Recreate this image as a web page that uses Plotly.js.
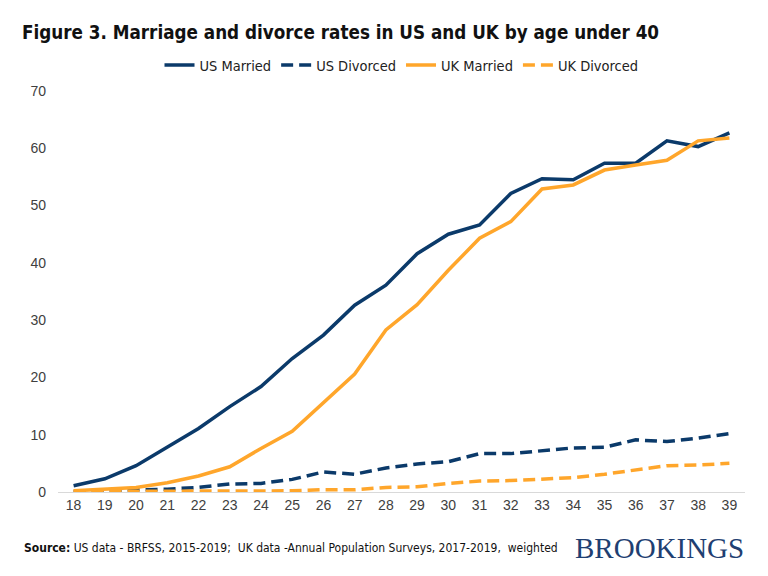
<!DOCTYPE html>
<html>
<head>
<meta charset="utf-8">
<script src="https://cdn.plot.ly/plotly-3.0.1.min.js"></script>
<style>
html,body{margin:0;padding:0;background:#fff;}
#chart{width:768px;height:576px;}
</style>
</head>
<body>
<div id="chart"></div>
<script>
var ages = [18,19,20,21,22,23,24,25,26,27,28,29,30,31,32,33,34,35,36,37,38,39];
var usMarried  = [1.1,2.3,4.6,7.9,11.1,14.9,18.4,23.3,27.4,32.6,36.1,41.6,45.0,46.6,52.1,54.7,54.5,57.4,57.4,61.3,60.3,62.7];
var usDivorced = [0.1,0.2,0.4,0.5,0.8,1.4,1.5,2.2,3.5,3.1,4.2,4.9,5.3,6.7,6.7,7.2,7.7,7.8,9.1,8.8,9.4,10.2];
var ukMarried  = [0.2,0.5,0.8,1.6,2.8,4.4,7.6,10.6,15.7,20.6,28.3,32.7,38.7,44.3,47.2,52.9,53.6,56.2,57.1,57.9,61.3,61.8];
var ukDivorced = [0.1,0.1,0.2,0.2,0.2,0.1,0.1,0.2,0.4,0.4,0.8,0.9,1.5,1.9,2.0,2.3,2.5,3.1,3.8,4.6,4.7,5.0];
var yTicks = [0,10,20,30,40,50,60,70];

var navy = '#0B3A6A';
var orange = '#FFA62B';
var narrow = '"Liberation Sans Narrow", "DejaVu Sans Condensed", "Arial Narrow", sans-serif';

function tr(name, y, color, dash){
  return {x: ages, y: y, name: name, type: 'scatter', mode: 'lines',
    line: {color: color, width: 3.5, dash: dash}, hoverinfo: 'x+y'};
}
var data = [
  tr('US Married', usMarried, navy, 'solid'),
  tr('US Divorced', usDivorced, navy, '12px,6px'),
  tr('UK Married', ukMarried, orange, 'solid'),
  tr('UK Divorced', ukDivorced, orange, '12px,6px')
];

var layout = {
  width: 768, height: 576,
  paper_bgcolor: '#fff', plot_bgcolor: '#fff',
  margin: {l: 58, r: 23, t: 91, b: 84},
  showlegend: true,
  legend: {orientation: 'h', x: 0.5, xanchor: 'center', y: 1 + 26/401, yanchor: 'middle', yref: 'paper',
    font: {family: narrow, size: 14.5, color: '#222'}, itemwidth: 30,
    traceorder: 'normal', bgcolor: 'rgba(0,0,0,0)'},
  title: {text: '<b>Figure 3. Marriage and divorce rates in US and UK by age under 40</b>',
    x: 22/768, xanchor: 'left', xref: 'container', y: 1 - 32/576, yref: 'container', yanchor: 'middle',
    font: {family: narrow, size: 18.7, color: '#111'}},
  xaxis: {
    range: [17.5, 39.5], tickmode: 'array', tickvals: ages, ticktext: ages.map(String),
    showgrid: false, zeroline: false, showline: true, linecolor: '#d9d9d9', linewidth: 1,
    ticks: '', ticklen: 0, tickfont: {family: 'Liberation Sans, Arial, sans-serif', size: 14, color: '#404040'},
    fixedrange: true
  },
  yaxis: {
    range: [0, 70], tickmode: 'array', tickvals: yTicks, ticktext: yTicks.map(String),
    showgrid: false, zeroline: false, showline: false, ticks: '',
    tickfont: {family: 'Liberation Sans, Arial, sans-serif', size: 14, color: '#404040'},
    ticklabelstandoff: 11, fixedrange: true
  },
  annotations: [
    {xref: 'paper', yref: 'paper', x: -36/690, y: -56/401, xanchor: 'left', yanchor: 'middle',
     showarrow: false, align: 'left',
     text: '<b>Source:</b> US data - BRFSS, 2015-2019;  UK data -Annual Population Surveys, 2017-2019,  weighted',
     font: {family: narrow, size: 12, color: '#111'}},
    {xref: 'paper', yref: 'paper', x: 1 + 1/687, y: -56/401, xanchor: 'right', yanchor: 'middle',
     showarrow: false, text: 'BROOKINGS',
     font: {family: '"Liberation Serif", "DejaVu Serif", serif', size: 29, color: '#1F3F72'}}
  ]
};

Plotly.newPlot('chart', data, layout, {displayModeBar: false, staticPlot: true});
</script>
</body>
</html>
